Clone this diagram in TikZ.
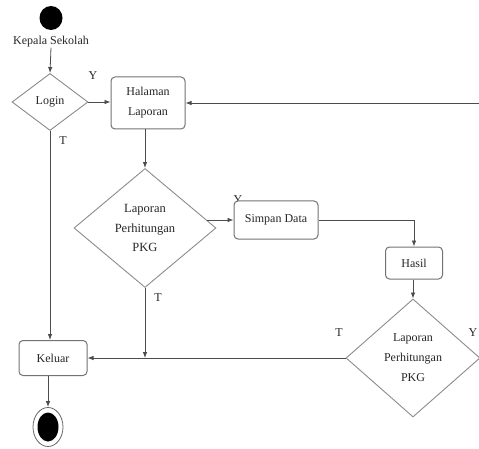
\documentclass[tikz,border=0pt]{standalone}
\usepackage{fontspec}
\setmainfont{Liberation Serif}
\newfontfamily\tnr{Liberation Serif}
\usetikzlibrary{shapes.geometric,arrows.meta,calc}
\begin{document}
\begin{tikzpicture}[x=1pt,y=-1pt,
  every node/.style={font=\tnr\fontsize{12}{20}\selectfont, text=black!85},
  box/.style={draw=black!55, rounded corners=4pt, line width=1pt, fill=white, align=center, inner sep=0pt},
  dec/.style={draw=black!45, diamond, line width=0.9pt, fill=white, align=center, inner sep=0pt},
  conn/.style={draw=black!70, line width=0.8pt, -{Latex[length=6pt,width=4.5pt]}},
  lbl/.style={inner sep=0pt}]
\useasboundingbox (0,0) rectangle (479,449);
% start
\node[ellipse, fill=black, minimum width=23pt, minimum height=24pt, inner sep=0pt] (start) at (51,18) {};
\node[lbl] (ks) at (51,42) {Kepala Sekolah};
% labels behind boxes
\node[lbl] (y2) at (238,200) {Y};
% nodes
\node[dec, minimum width=76pt, minimum height=57pt] (login) at (50,102) {Login};
\node[box, minimum width=74pt, minimum height=52pt] (hal) at (148,103) {Halaman\\Laporan};
\node[dec, minimum width=142pt, minimum height=119pt, font=\tnr\fontsize{12.5}{19.5}\selectfont] (d2) at (145,228) {Laporan\\Perhitungan\\PKG};
\node[box, minimum width=84pt, minimum height=38pt] (simpan) at (276,220) {Simpan Data};
\node[box, minimum width=57pt, minimum height=32pt] (hasil) at (414,263) {Hasil};
\node[dec, minimum width=134pt, minimum height=118pt] (d3) at (413,358) {Laporan\\Perhitungan\\PKG};
\node[box, minimum width=68pt, minimum height=35pt] (keluar) at (53,358) {Keluar};
\node[ellipse, draw=black!60, line width=0.8pt, minimum width=30pt, minimum height=39pt, inner sep=0pt] (end) at (48,427) {};
\node[ellipse, fill=black, minimum width=21pt, minimum height=29pt, inner sep=0pt] (endin) at (48,427) {};
% labels
\node[lbl] (y1) at (93,76) {Y};
\node[lbl] (t1) at (63,141) {T};
\node[lbl] (t2) at (158,298) {T};
\node[lbl] (t3) at (339,333) {T};
\node[lbl] (y3) at (473,333) {Y};
% connectors
\coordinate (rt) at (479,103);
\coordinate (dp) at ($(d2.east)!0.134!(d2.north)$);
\draw[conn] (ks.south) -- (login.north);
\draw[conn] (login.east) -- (login.east -| hal.west);
\draw[conn] (rt) -- (hal.east);
\draw[conn] (login.south) -- (login.south |- keluar.north);
\draw[conn] (hal.south -| d2.north) -- (d2.north);
\draw[conn] (dp) -- (dp -| simpan.west);
\draw[conn] (simpan.east) -| (hasil.north);
\draw[conn] (hasil.south -| d3.north) -- (d3.north);
\draw[conn] (d3.west) -- (keluar.east);
\draw[conn] (d2.south) -- (d2.south |- d3.west);
\draw[conn] (keluar.south -| end.north) -- (end.north);
\end{tikzpicture}
\end{document}
